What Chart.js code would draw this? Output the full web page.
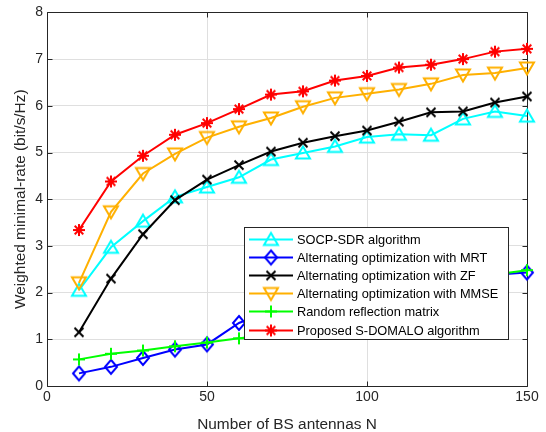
<!DOCTYPE html>
<html>
<head>
<meta charset="utf-8">
<script src="https://cdn.jsdelivr.net/npm/chart.js@4/dist/chart.umd.min.js"></script>
<style>
  html, body { margin: 0; padding: 0; background: #ffffff; }
  #wrap { width: 546px; height: 432px; }
</style>
</head>
<body>
<div id="wrap"><canvas id="c" width="546" height="432"></canvas></div>
<script>
// Number of BS antennas (x axis)
const antennas = [10, 20, 30, 40, 50, 60, 70, 80, 90, 100, 110, 120, 130, 140, 150];

// Weighted minimal-rate (bit/s/Hz) per scheme
const socpSdr   = [2.05, 2.97, 3.53, 4.05, 4.26, 4.47, 4.85, 4.99, 5.13, 5.33, 5.39, 5.37, 5.72, 5.88, 5.78];
const aoMrt     = [0.27, 0.41, 0.60, 0.78, 0.89, 1.35, 1.62, 1.82, 1.97, 2.08, 2.17, 2.25, 2.31, 2.38, 2.43];
const aoZf      = [1.15, 2.30, 3.25, 3.98, 4.42, 4.73, 5.02, 5.21, 5.35, 5.47, 5.66, 5.86, 5.88, 6.07, 6.20];
const aoMmse    = [2.21, 3.73, 4.55, 4.97, 5.32, 5.55, 5.74, 5.98, 6.17, 6.26, 6.35, 6.47, 6.66, 6.70, 6.81];
const randomRef = [0.57, 0.69, 0.76, 0.85, 0.93, 1.02, 1.13, 1.27, 1.42, 1.58, 1.76, 1.96, 2.17, 2.39, 2.48];
const sDomalo   = [3.34, 4.38, 4.93, 5.38, 5.63, 5.93, 6.24, 6.31, 6.54, 6.64, 6.82, 6.88, 7.00, 7.16, 7.22];

// Axis ticks
const xTicks = [0, 50, 100, 150];
const yTicks = [0, 1, 2, 3, 4, 5, 6, 7, 8];

const seriesNames = [
  'SOCP-SDR algorithm',
  'Alternating optimization with MRT',
  'Alternating optimization with ZF',
  'Alternating optimization with MMSE',
  'Random reflection matrix',
  'Proposed S-DOMALO algorithm'
];
const seriesData = [socpSdr, aoMrt, aoZf, aoMmse, randomRef, sDomalo];
const seriesColors = ['#00ffff', '#0000ff', '#000000', '#ffb000', '#00ff00', '#ff0000'];
const seriesMarkers = ['triUp', 'diamond', 'x', 'triDown', 'plus', 'star'];

const FONT = '"Liberation Sans", Arial, Helvetica, sans-serif';
const AXIS_COLOR = '#262626';

// Build outlined marker sprites in the style of MATLAB markers
function makeMarker(kind, color) {
  const S = 22;
  const cv = document.createElement('canvas');
  cv.width = S; cv.height = S;
  const g = cv.getContext('2d');
  const c = S / 2;
  g.strokeStyle = color;
  g.lineWidth = 2;
  g.lineJoin = 'miter';
  g.beginPath();
  if (kind === 'triUp') {
    g.moveTo(c, c - 6.5); g.lineTo(c + 7, c + 5.5); g.lineTo(c - 7, c + 5.5); g.closePath();
  } else if (kind === 'triDown') {
    g.moveTo(c, c + 6.5); g.lineTo(c + 7, c - 5.5); g.lineTo(c - 7, c - 5.5); g.closePath();
  } else if (kind === 'diamond') {
    g.moveTo(c, c - 7); g.lineTo(c + 6, c); g.lineTo(c, c + 7); g.lineTo(c - 6, c); g.closePath();
  } else if (kind === 'x') {
    g.moveTo(c - 4.5, c - 4.5); g.lineTo(c + 4.5, c + 4.5);
    g.moveTo(c + 4.5, c - 4.5); g.lineTo(c - 4.5, c + 4.5);
  } else if (kind === 'plus') {
    g.moveTo(c - 6, c); g.lineTo(c + 6, c);
    g.moveTo(c, c - 6); g.lineTo(c, c + 6);
  } else if (kind === 'star') {
    g.moveTo(c - 6, c); g.lineTo(c + 6, c);
    g.moveTo(c, c - 6); g.lineTo(c, c + 6);
    g.moveTo(c - 4.3, c - 4.3); g.lineTo(c + 4.3, c + 4.3);
    g.moveTo(c + 4.3, c - 4.3); g.lineTo(c - 4.3, c + 4.3);
  }
  g.stroke();
  return cv;
}

const markerSprites = seriesMarkers.map((m, i) => makeMarker(m, seriesColors[i]));

const datasets = seriesNames.map((name, i) => ({
  label: name,
  data: antennas.map((n, k) => ({ x: n, y: seriesData[i][k] })),
  borderColor: seriesColors[i],
  backgroundColor: seriesColors[i],
  borderWidth: 2,
  pointStyle: markerSprites[i],
  pointRadius: 5,
  pointHoverRadius: 5,
  tension: 0,
  fill: false,
  clip: false,
  order: seriesNames.length - i
}));

// Axes box with inward ticks, plus an in-plot legend
const axesBoxPlugin = {
  id: 'axesBox',
  beforeDatasetsDraw(chart) {
    const { ctx, chartArea: a, scales: { x, y } } = chart;
    ctx.save();
    ctx.strokeStyle = AXIS_COLOR;
    ctx.lineWidth = 1;
    const L = Math.round(a.left) + 0.5, R = Math.round(a.right) + 0.5;
    const T = Math.round(a.top) + 0.5, B = Math.round(a.bottom) + 0.5;
    ctx.beginPath();
    ctx.rect(L, T, R - L, B - T);
    const tl = 5;
    xTicks.forEach(v => {
      const px = Math.round(x.getPixelForValue(v)) + 0.5;
      ctx.moveTo(px, B); ctx.lineTo(px, B - tl);
      ctx.moveTo(px, T); ctx.lineTo(px, T + tl);
    });
    yTicks.forEach(v => {
      const py = Math.round(y.getPixelForValue(v)) + 0.5;
      ctx.moveTo(L, py); ctx.lineTo(L + tl, py);
      ctx.moveTo(R, py); ctx.lineTo(R - tl, py);
    });
    ctx.stroke();
    ctx.restore();
  },
  afterDatasetsDraw(chart) {
    const { ctx } = chart;
    const box = { left: 244.5, top: 227.5, right: 508.5, bottom: 339.5 };
    ctx.save();
    ctx.fillStyle = '#ffffff';
    ctx.fillRect(box.left, box.top, box.right - box.left, box.bottom - box.top);
    ctx.strokeStyle = AXIS_COLOR;
    ctx.lineWidth = 1;
    ctx.strokeRect(box.left, box.top, box.right - box.left, box.bottom - box.top);
    const rowH = 18.2;
    const y0 = 238.5;
    ctx.font = '12.8px ' + FONT;
    ctx.textBaseline = 'middle';
    ctx.textAlign = 'left';
    seriesNames.forEach((name, i) => {
      const yy = Math.round(y0 + i * rowH) + 0.5;
      ctx.strokeStyle = seriesColors[i];
      ctx.lineWidth = 2;
      ctx.beginPath();
      ctx.moveTo(249, yy); ctx.lineTo(293, yy);
      ctx.stroke();
      const sp = markerSprites[i];
      ctx.drawImage(sp, 271 - sp.width / 2, yy - sp.height / 2);
      ctx.fillStyle = '#000000';
      ctx.fillText(name, 297, yy + 0.5);
    });
    ctx.restore();
  }
};

new Chart(document.getElementById('c'), {
  type: 'line',
  data: { datasets },
  options: {
    responsive: false,
    animation: false,
    devicePixelRatio: 1,
    events: [],
    layout: { padding: { left: 0, right: 19, top: 10, bottom: 0 } },
    plugins: {
      legend: { display: false },
      tooltip: { enabled: false },
      title: { display: false }
    },
    scales: {
      x: {
        type: 'linear',
        min: 0, max: 150,
        afterBuildTicks(s) { s.ticks = xTicks.map(v => ({ value: v })); },
        afterFit(s) { s.height = 46; },
        ticks: { color: AXIS_COLOR, font: { family: FONT, size: 14 }, padding: 3, maxRotation: 0 },
        grid: { color: '#dfdfdf', lineWidth: 1, drawTicks: false },
        border: { display: false },
        title: {
          display: true,
          text: 'Number of BS antennas N',
          color: AXIS_COLOR,
          font: { family: FONT, size: 15.4, lineHeight: 1 },
          padding: { top: 0, bottom: 0 }
        }
      },
      y: {
        type: 'linear',
        min: 0, max: 8,
        afterBuildTicks(s) { s.ticks = yTicks.map(v => ({ value: v })); },
        afterFit(s) { s.width = 47; },
        ticks: { color: AXIS_COLOR, font: { family: FONT, size: 14 }, padding: 4 },
        grid: { color: '#dfdfdf', lineWidth: 1, drawTicks: false },
        border: { display: false },
        title: {
          display: true,
          text: 'Weighted minimal-rate (bit/s/Hz)',
          color: AXIS_COLOR,
          font: { family: FONT, size: 15.4, lineHeight: 1 },
          padding: { top: 13, bottom: 0 }
        }
      }
    }
  },
  plugins: [axesBoxPlugin]
});
</script>
</body>
</html>
